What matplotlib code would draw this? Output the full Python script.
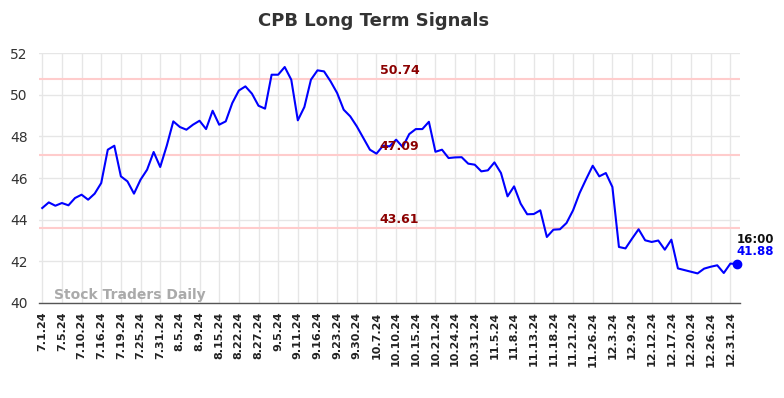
import matplotlib
matplotlib.use("Agg")
import matplotlib.pyplot as plt
import numpy as np

# closing prices, one per plotted session
prices = [
    44.56, 44.83, 44.67, 44.80, 44.69, 45.04, 45.20, 44.96, 45.25, 45.76,
    47.36, 47.55, 46.08, 45.84, 45.25, 45.92, 46.40, 47.25, 46.53, 47.55,
    48.72, 48.45, 48.32, 48.56, 48.75, 48.35, 49.23, 48.56, 48.72, 49.60,
    50.20, 50.40, 50.05, 49.47, 49.33, 50.96, 50.96, 51.33, 50.72, 48.77,
    49.41, 50.72, 51.17, 51.12, 50.64, 50.08, 49.28, 48.96, 48.48, 47.92,
    47.36, 47.17, 47.55, 47.52, 47.84, 47.49, 48.11, 48.35, 48.35, 48.70,
    47.26, 47.36, 46.96, 46.99, 47.00, 46.69, 46.64, 46.32, 46.37, 46.75,
    46.24, 45.12, 45.60, 44.77, 44.26, 44.27, 44.45, 43.17, 43.52, 43.54,
    43.84, 44.45, 45.28, 45.95, 46.59, 46.08, 46.24, 45.57, 42.69, 42.62,
    43.09, 43.54, 43.01, 42.93, 43.00, 42.56, 43.04, 41.66, 41.58, 41.50,
    41.42, 41.65, 41.74, 41.81, 41.44, 41.89, 41.88,
]

tick_labels = [
    "7.1.24", "7.5.24", "7.10.24", "7.16.24", "7.19.24", "7.25.24", "7.31.24",
    "8.5.24", "8.9.24", "8.15.24", "8.22.24", "8.27.24", "9.5.24", "9.11.24",
    "9.16.24", "9.23.24", "9.30.24", "10.7.24", "10.10.24", "10.15.24",
    "10.21.24", "10.24.24", "10.31.24", "11.5.24", "11.8.24", "11.13.24",
    "11.18.24", "11.21.24", "11.26.24", "12.3.24", "12.9.24", "12.12.24",
    "12.17.24", "12.20.24", "12.26.24", "12.31.24",
]
tick_step = 3

levels = [50.74, 47.09, 43.61]
last_time = "16:00"

x = np.arange(len(prices))

fig = plt.figure(figsize=(7.84, 3.98), dpi=100)
ax = fig.add_axes([0.0497, 0.2387, 0.8944, 0.628])

ax.set_xlim(-0.5, len(prices) - 0.5)
ax.set_ylim(40, 52)

ax.set_xticks(x[::tick_step][:len(tick_labels)])
ax.set_xticklabels(tick_labels, rotation=90, fontsize=8, fontweight="bold", color="#222222")
ax.set_yticks(np.arange(40, 53, 2))
ax.tick_params(axis="y", labelsize=10, colors="#333333", length=0, pad=8)
ax.tick_params(axis="x", length=0, pad=6)
ax.grid(True, color="#e6e6e6", linewidth=1)
ax.set_axisbelow(True)

for s in ["left", "right", "top"]:
    ax.spines[s].set_visible(False)
ax.spines["bottom"].set_color("#555555")
ax.spines["bottom"].set_linewidth(1)

mid = x[len(x) // 2]
for lv in levels:
    ax.axhline(lv, color="#ffcccc", linewidth=1.5, zorder=1)
    ax.text(mid + 1.5, lv + 0.1, f"{lv:.2f}", color="#8b0000", fontsize=9,
            fontweight="bold", ha="center", va="bottom", zorder=4)

ax.plot(x, prices, color="#0000ff", linewidth=1.5, zorder=3)
ax.plot(x[-1], prices[-1], "o", color="#0000ff", markersize=6, zorder=5,
        clip_on=False)

ax.text(x[-1], prices[-1] + 0.3, f"{prices[-1]:.2f}", color="#0000ff",
        fontsize=8.5, fontweight="bold", ha="left", va="bottom")
ax.text(x[-1], prices[-1] + 0.88, last_time, color="#111111",
        fontsize=8.5, fontweight="bold", ha="left", va="bottom")

ax.text(1.8, 40.05, "Stock Traders Daily", color="#aaaaaa", fontsize=10,
        fontweight="bold", ha="left", va="bottom")

fig.suptitle("CPB Long Term Signals", x=0.477, y=0.97, fontsize=13,
             fontweight="bold", color="#333333")

fig.savefig("out.png", dpi=100)
